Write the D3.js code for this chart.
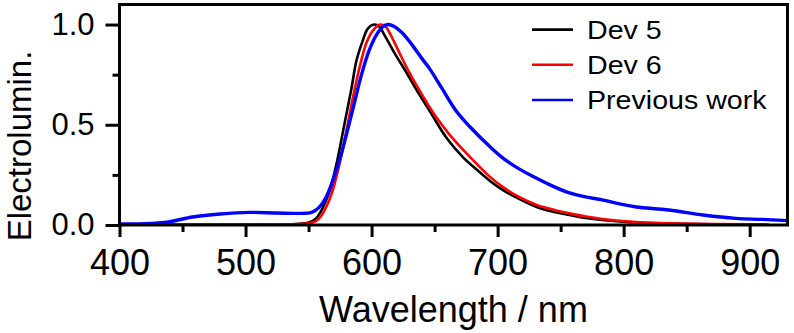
<!DOCTYPE html>
<html>
<head>
<meta charset="UTF-8">
<script src="https://d3js.org/d3.v7.min.js"></script>
<style>
  body { margin: 0; background: #fff; }
  text { font-family: Arial, "Liberation Sans", sans-serif; fill: #000; }
</style>
</head>
<body>
<script>
  // wavelength (nm) / normalised EL
  const dev5Wl = [400, 440, 500, 540, 550, 556, 560, 564, 567, 572, 579, 584, 588, 593, 597, 602, 606, 610, 618, 628, 636, 646, 660, 673, 680, 694, 704, 717, 731, 745, 757, 770, 783, 810, 850, 900, 915];
  const dev5Val = [0.003, 0.003, 0.003, 0.005, 0.012, 0.033, 0.07, 0.125, 0.175, 0.3, 0.52, 0.68, 0.82, 0.92, 0.98, 1.0, 0.99, 0.95, 0.86, 0.757, 0.67, 0.57, 0.43, 0.335, 0.295, 0.22, 0.175, 0.13, 0.09, 0.065, 0.05, 0.035, 0.025, 0.012, 0.005, 0.002, 0.001];

  const dev6Wl = [400, 440, 500, 540, 550, 556, 560, 564, 568, 574, 581, 586, 591, 596, 601, 607, 611, 615, 622, 630, 640, 650, 662, 678, 694, 704, 717, 731, 745, 757, 770, 783, 810, 850, 900, 915];
  const dev6Val = [0.003, 0.003, 0.003, 0.004, 0.008, 0.02, 0.045, 0.09, 0.15, 0.29, 0.5, 0.66, 0.8, 0.91, 0.97, 1.0, 0.99, 0.95, 0.86, 0.76, 0.65, 0.55, 0.45, 0.34, 0.24, 0.19, 0.14, 0.10, 0.075, 0.058, 0.042, 0.03, 0.015, 0.007, 0.003, 0.002];

  const prevWl = [400, 420, 440, 458, 480, 503, 525, 545, 552, 556, 560, 564, 568, 574, 580, 586, 592, 598, 604, 609, 613, 618, 624, 632, 640, 646, 656, 667, 678, 694, 704, 717, 731, 745, 757, 770, 783, 797, 810, 836, 863, 889, 910, 930];
  const prevVal = [0.005, 0.006, 0.017, 0.04, 0.055, 0.063, 0.06, 0.058, 0.062, 0.075, 0.1, 0.14, 0.2, 0.31, 0.45, 0.6, 0.75, 0.87, 0.95, 0.99, 1.0, 0.99, 0.96, 0.9, 0.83, 0.78, 0.68, 0.57, 0.49, 0.39, 0.335, 0.28, 0.233, 0.19, 0.16, 0.14, 0.125, 0.105, 0.09, 0.075, 0.05, 0.033, 0.028, 0.022];

  const seriesNames = ["Dev 5", "Dev 6", "Previous work"];
  const seriesColors = ["#000000", "#ff0000", "#0000ff"];
  const xTicks = [400, 500, 600, 700, 800, 900];
  const xMinor = [450, 550, 650, 750, 850];
  const yTicks = [0, 0.5, 1.0];
  const yMinor = [0.25, 0.75];

  const W = 794, H = 333;
  const pLeft = 119.5, pRight = 787.5, pTop = 4.5, pBottom = 225;

  const x = d3.scaleLinear().domain([400, 930]).range([pLeft, pRight]);
  const y = d3.scaleLinear().domain([0, 1.1]).range([pBottom, pTop]);

  const svg = d3.select("body").append("svg")
    .attr("width", W).attr("height", H);

  svg.append("clipPath").attr("id", "clip")
    .append("rect")
    .attr("x", pLeft).attr("y", pTop)
    .attr("width", pRight - pLeft).attr("height", pBottom - pTop);

  const series = [
    { wl: dev5Wl, v: dev5Val },
    { wl: dev6Wl, v: dev6Val },
    { wl: prevWl, v: prevVal }
  ];

  const line = d3.line()
    .x(d => x(d[0]))
    .y(d => y(d[1]))
    .curve(d3.curveCatmullRom.alpha(0.5));

  const plot = svg.append("g").attr("clip-path", "url(#clip)");
  series.forEach((s, i) => {
    plot.append("path")
      .datum(s.wl.map((w, j) => [w, s.v[j]]))
      .attr("fill", "none")
      .attr("stroke", seriesColors[i])
      .attr("stroke-width", i == 2 ? 3.4 : 2.6)
      .attr("stroke-linejoin", "round")
      .attr("d", line);
  });

  // frame
  svg.append("rect")
    .attr("x", pLeft).attr("y", pTop)
    .attr("width", pRight - pLeft).attr("height", pBottom - pTop)
    .attr("fill", "none").attr("stroke", "#000").attr("stroke-width", 3);

  // x axis
  const xAxis = svg.append("g")
    .attr("transform", "translate(0," + pBottom + ")")
    .call(d3.axisBottom(x).tickValues(xTicks).tickSize(12).tickPadding(12).tickFormat(d3.format("d")));
  xAxis.select(".domain").remove();
  xAxis.selectAll("line").attr("stroke-width", 3);
  xAxis.selectAll("text").style("font-size", "36px");

  svg.append("g")
    .attr("transform", "translate(0," + pBottom + ")")
    .call(d3.axisBottom(x).tickValues(xMinor).tickSize(7).tickFormat(""))
    .call(g => g.select(".domain").remove())
    .selectAll("line").attr("stroke-width", 3);

  // y axis
  const yAxis = svg.append("g")
    .attr("transform", "translate(" + pLeft + ",0)")
    .call(d3.axisLeft(y).tickValues(yTicks).tickSize(14).tickPadding(11).tickFormat(d3.format(".1f")));
  yAxis.select(".domain").remove();
  yAxis.selectAll("line").attr("stroke-width", 3);
  yAxis.selectAll("text").style("font-size", "31px");

  svg.append("g")
    .attr("transform", "translate(" + pLeft + ",0)")
    .call(d3.axisLeft(y).tickValues(yMinor).tickSize(7).tickFormat(""))
    .call(g => g.select(".domain").remove())
    .selectAll("line").attr("stroke-width", 3);

  // axis titles
  svg.append("text")
    .attr("x", (pLeft + pRight) / 2).attr("y", 322)
    .attr("text-anchor", "middle")
    .style("font-size", "36px")
    .text("Wavelength / nm");

  svg.append("text")
    .attr("transform", "translate(31,146) rotate(-90)")
    .attr("text-anchor", "middle")
    .style("font-size", "33px")
    .text("Electrolumin.");

  // legend
  const legend = svg.append("g");
  seriesNames.forEach((name, i) => {
    const ly = 29.6 + i * 35.2;
    legend.append("line")
      .attr("x1", 532).attr("x2", 573)
      .attr("y1", ly).attr("y2", ly)
      .attr("stroke", seriesColors[i]).attr("stroke-width", 2.6);
    legend.append("text")
      .attr("transform", "translate(587," + (ly + 9) + ") scale(1.1,1)")
      .style("font-size", "26px")
      .text(name);
  });
</script>
</body>
</html>
